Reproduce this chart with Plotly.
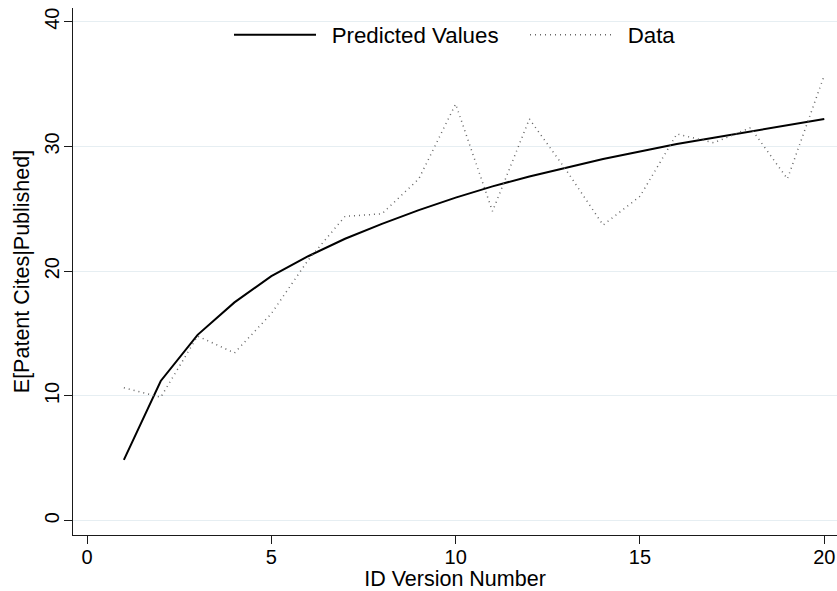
import plotly.graph_objects as go

# Data
version = [1, 2, 3, 4, 5, 6, 7, 8, 9, 10, 11, 12, 13, 14, 15, 16, 17, 18, 19, 20]
predicted = [4.88, 11.2, 14.9, 17.5, 19.6, 21.2, 22.6, 23.8, 24.9, 25.9,
             26.8, 27.6, 28.3, 29.0, 29.6, 30.2, 30.7, 31.2, 31.7, 32.2]
data_vals = [10.65, 9.9, 14.8, 13.45, 16.6, 20.9, 24.4, 24.6, 27.4, 33.4,
             24.8, 32.2, 28.1, 23.7, 26.0, 31.0, 30.3, 31.5, 27.4, 35.7]

x_ticks = [0, 5, 10, 15, 20]
y_ticks = [0, 10, 20, 30, 40]
series_names = ["Predicted Values", "Data"]

FONT = "Liberation Sans, Arial, sans-serif"
PAD = "\u00a0\u2009"

fig = go.Figure()
fig.add_trace(go.Scatter(
    x=version, y=predicted, mode="lines", name=PAD + series_names[0],
    line=dict(color="#000000", width=2),
))
fig.add_trace(go.Scatter(
    x=version, y=data_vals, mode="lines", name=PAD + series_names[1],
    line=dict(color="#666666", width=1.5, dash="1px,4px"),
))

# white legend backdrop (masks the top gridline as in the reference)
fig.add_shape(type="rect", xref="paper", yref="paper",
              x0=(224 - 73) / 764, x1=(688 - 73) / 764, y0=0.905, y1=0.995,
              fillcolor="white", line=dict(width=0), layer="below")

fig.update_layout(
    width=837, height=591,
    paper_bgcolor="white", plot_bgcolor="white",
    margin=dict(l=73, r=0, t=8, b=56),
    font=dict(family=FONT, size=20, color="#000000"),
    showlegend=True,
    legend=dict(
        orientation="h", x=(229 - 73) / 764, xanchor="left", y=0.989, yanchor="top",
        bgcolor="rgba(0,0,0,0)", borderwidth=0,
        font=dict(family=FONT, size=22.3, color="#000000"),
        itemwidth=82, entrywidth=199,
    ),
    xaxis=dict(
        range=[-0.38, 20.345], tickmode="array", tickvals=x_ticks,
        ticktext=[str(v) for v in x_ticks],
        showgrid=False, zeroline=False,
        showline=True, linecolor="#1a1a1a", linewidth=1.3,
        ticks="outside", ticklen=8, tickwidth=1.3, tickcolor="#1a1a1a",
        tickfont=dict(size=20), ticklabelstandoff=-4,
        title=dict(text="ID Version Number", font=dict(size=21.5), standoff=9),
        automargin=False,
    ),
    yaxis=dict(
        range=[-1.146, 41.1], tickmode="array", tickvals=y_ticks,
        ticktext=[str(v) for v in y_ticks],
        showgrid=True, gridcolor="#e6eef2", gridwidth=1.3,
        zeroline=False,
        showline=True, linecolor="#1a1a1a", linewidth=1.3,
        ticks="outside", ticklen=8, tickwidth=1.3, tickcolor="#1a1a1a",
        tickangle=-90, tickfont=dict(size=20), ticklabelstandoff=-3,
        title=dict(text="E[Patent Cites|Published]", font=dict(size=21.5), standoff=5),
        automargin=False,
    ),
)

fig.write_html("out.html", config={"displayModeBar": False},
               post_script="document.body.style.margin='0';")
